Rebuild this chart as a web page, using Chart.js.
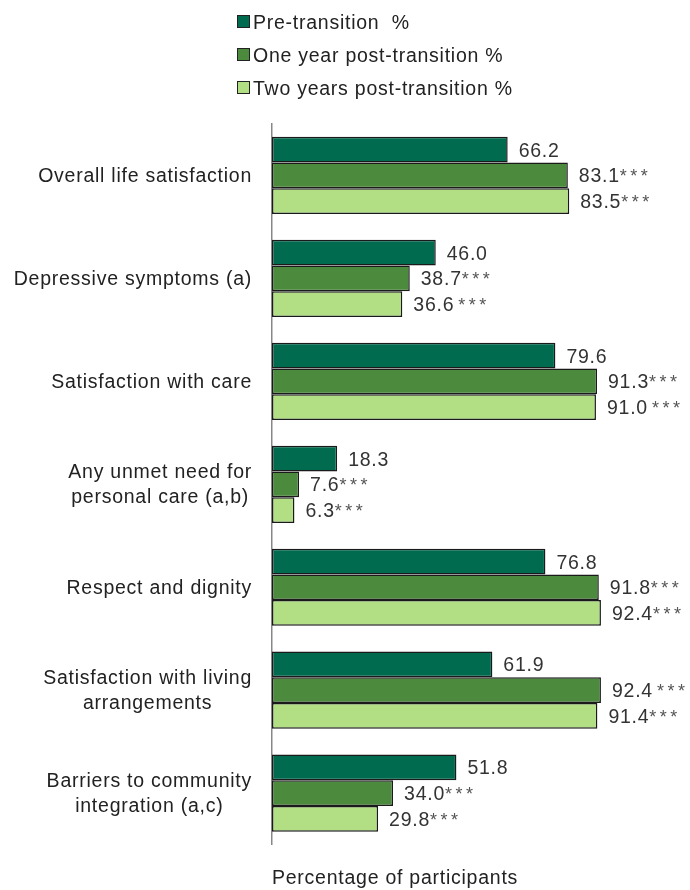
<!DOCTYPE html>
<html>
<head>
<meta charset="utf-8">
<script src="https://cdn.jsdelivr.net/npm/chart.js@4/dist/chart.umd.min.js"></script>
<style>
  body { margin: 0; background: #fff; }
  #wrap { position: relative; width: 690px; height: 890px; }
  #legend { position: absolute; left: 237px; top: 5px; font: 19.5px "Liberation Sans", Arial, sans-serif; letter-spacing: 0.75px; color: #222; white-space: pre; }
  #legend div { height: 33px; line-height: 28px; display: flex; align-items: center; }
  #legend span.box { display: inline-block; width: 11px; height: 11px; border: 1.5px solid #222; margin-right: 3px; }
</style>
</head>
<body>
<div id="wrap">
  <canvas id="chart" width="690" height="890"></canvas>
  <div id="legend"></div>
</div>
<script>
// categories (multi-line labels as arrays)
const categories = [
  ['Overall life satisfaction'],
  ['Depressive symptoms (a)'],
  ['Satisfaction with care'],
  ['Any unmet need for', 'personal care (a,b)'],
  ['Respect and dignity'],
  ['Satisfaction with living', 'arrangements'],
  ['Barriers to community', 'integration (a,c)']
];

const seriesNames = ['Pre-transition  %', 'One year post-transition %', 'Two years post-transition %'];
const seriesColors = ['#006B4F', '#4C8B3D', '#B2DF84'];

const preTransition = [66.2, 46.0, 79.6, 18.3, 76.8, 61.9, 51.8];
const oneYear = [83.1, 38.7, 91.3, 7.6, 91.8, 92.4, 34.0];
const twoYears = [83.5, 36.6, 91.0, 6.3, 92.4, 91.4, 29.8];

// significance marks printed after each value
const preMarks = ['', '', '', '', '', '', ''];
const oneYearMarks = ['***', '***', '***', '***', '***', ' ***', '***'];
const twoYearMarks = ['***', ' ***', ' ***', '***', '***', '***', '***'];

const FONT = '"Liberation Sans", Arial, sans-serif';
const SPACING = '0.75px';

// text in the reference is a little wider than plain Arial
const spacing = {
  id: 'spacing',
  beforeDraw(chart) { chart.ctx.letterSpacing = SPACING; }
};

// value labels to the right of each bar
const valueLabels = {
  id: 'valueLabels',
  afterDatasetsDraw(chart) {
    const ctx = chart.ctx;
    ctx.save();
    ctx.textBaseline = 'alphabetic';
    ctx.textAlign = 'left';
    chart.data.datasets.forEach((ds, i) => {
      const meta = chart.getDatasetMeta(i);
      meta.data.forEach((bar, j) => {
        const txt = ds.data[j].toFixed(1);
        let x = bar.x + 11;
        const y = bar.y + 7;
        ctx.letterSpacing = SPACING;
        ctx.font = '19.5px ' + FONT;
        ctx.fillStyle = '#333';
        ctx.fillText(txt, x, y);
        x += ctx.measureText(txt).width;
        let m = ds.marks[j];
        if (m) {
          if (m[0] === ' ') { x += 4; m = m.trim(); }
          ctx.letterSpacing = '3.5px';
          ctx.font = '18px ' + FONT;
          ctx.fillStyle = '#555';
          ctx.fillText(m, x, y);
        }
      });
    });
    ctx.restore();
  }
};

// category labels: block right-aligned, lines centred within the block
const categoryLabels = {
  id: 'categoryLabels',
  afterDraw(chart) {
    const ctx = chart.ctx;
    const yScale = chart.scales.y;
    ctx.save();
    ctx.letterSpacing = SPACING;
    ctx.font = '19.5px ' + FONT;
    ctx.fillStyle = '#222';
    ctx.textAlign = 'center';
    ctx.textBaseline = 'middle';
    categories.forEach((lines, i) => {
      const yc = yScale.getPixelForValue(i);
      const w = Math.max(...lines.map(l => ctx.measureText(l).width));
      const cx = 252 - w / 2;
      const lh = 25;
      lines.forEach((l, k) => {
        ctx.fillText(l, cx, yc + 1 + (k - (lines.length - 1) / 2) * lh);
      });
    });
    ctx.restore();
  }
};

const chart = new Chart(document.getElementById('chart'), {
  type: 'bar',
  data: {
    labels: categories,
    datasets: [
      { label: seriesNames[0], data: preTransition, marks: preMarks, backgroundColor: seriesColors[0] },
      { label: seriesNames[1], data: oneYear, marks: oneYearMarks, backgroundColor: seriesColors[1] },
      { label: seriesNames[2], data: twoYears, marks: twoYearMarks, backgroundColor: seriesColors[2] }
    ].map(d => Object.assign(d, {
      borderColor: '#1a1a1a',
      borderWidth: 1.5,
      borderSkipped: false,
      barPercentage: 1,
      categoryPercentage: 0.75
    }))
  },
  options: {
    indexAxis: 'y',
    responsive: false,
    animation: false,
    layout: { padding: { top: 124, right: 62, left: 0, bottom: 0 } },
    plugins: {
      legend: { display: false },
      tooltip: { enabled: false }
    },
    scales: {
      x: {
        min: 0,
        max: 100,
        grid: { display: false },
        border: { display: false },
        ticks: { display: false },
        title: {
          display: true,
          align: 'start',
          text: 'Percentage of participants',
          color: '#222',
          font: { size: 19.5, family: FONT },
          padding: { top: 14, bottom: 0 }
        }
      },
      y: {
        grid: { display: false },
        border: { display: true, color: '#888', width: 1.5 },
        ticks: { display: false },
        afterFit(scale) { scale.width = 272; }
      }
    }
  },
  plugins: [spacing, valueLabels, categoryLabels]
});

// legend in a single column, built from the chart datasets
const legendEl = document.getElementById('legend');
chart.data.datasets.forEach(ds => {
  const row = document.createElement('div');
  const box = document.createElement('span');
  box.className = 'box';
  box.style.background = ds.backgroundColor;
  row.appendChild(box);
  row.appendChild(document.createTextNode(ds.label));
  legendEl.appendChild(row);
});
</script>
</body>
</html>
